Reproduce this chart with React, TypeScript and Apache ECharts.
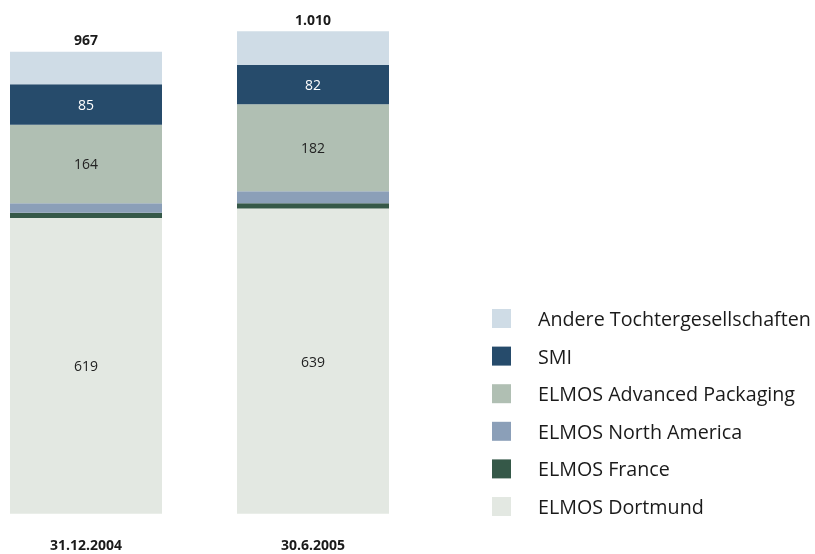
import React, { useEffect, useRef } from "react";
import * as echarts from "echarts";

const categories = ["31.12.2004", "30.6.2005"];
const dortmund = [619, 639];
const france = [11, 11];
const northAmerica = [20, 25];
const advancedPackaging = [164, 182];
const smi = [85, 82];
const andere = [68, 71];
const totals = [967, 1010];

const seriesNames = [
  "ELMOS Dortmund",
  "ELMOS France",
  "ELMOS North America",
  "ELMOS Advanced Packaging",
  "SMI",
  "Andere Tochtergesellschaften",
];
const legendOrder = [
  "Andere Tochtergesellschaften",
  "SMI",
  "ELMOS Advanced Packaging",
  "ELMOS North America",
  "ELMOS France",
  "ELMOS Dortmund",
];

const FONT = "'Open Sans', 'Noto Sans', sans-serif";

function fmtDE(v: number): string {
  return String(v).replace(/\B(?=(\d{3})+(?!\d))/g, ".");
}

export default function App() {
  const ref = useRef<HTMLDivElement>(null);
  useEffect(() => {
    if (!ref.current) return;
    const chart = echarts.init(ref.current, null, { renderer: "svg" });
    const inside = (color: string) => ({
      show: true,
      position: "inside" as const,
      color,
      fontSize: 14,
      fontFamily: FONT,
    });
    const mk = (name: string, data: number[], color: string, label: any) => ({
      name,
      type: "bar",
      stack: "total",
      barWidth: 152,
      clip: false,
      data,
      itemStyle: { color },
      label,
      emphasis: { disabled: true },
    });
    chart.setOption({
      animation: false,
      textStyle: { fontFamily: FONT },
      grid: { left: 86, width: 227, top: 7.3, bottom: 40.3, containLabel: false },
      xAxis: {
        type: "category",
        data: categories,
        boundaryGap: false,
        axisLine: { show: false },
        axisTick: { show: false },
        splitLine: { show: false },
        axisLabel: {
          margin: 24,
          fontSize: 14,
          fontWeight: "bold",
          color: "#1a1a1a",
          fontFamily: FONT,
        },
      },
      yAxis: {
        type: "value",
        min: 0,
        max: 1060,
        show: false,
        splitLine: { show: false },
      },
      legend: {
        orient: "vertical",
        left: 487,
        top: 303.5,
        data: legendOrder,
        icon: "rect",
        itemWidth: 19,
        itemHeight: 19,
        itemGap: 17.6,
        selectedMode: false,
        textStyle: {
          fontSize: 19.7,
          lineHeight: 19,
          color: "#1a1a1a",
          fontFamily: FONT,
          padding: [0, 0, 0, 22],
        },
      },
      series: [
        mk(seriesNames[0], dortmund, "#e3e8e2", inside("#222222")),
        mk(seriesNames[1], france, "#355848", { show: false }),
        mk(seriesNames[2], northAmerica, "#8b9fb8", { show: false }),
        mk(seriesNames[3], advancedPackaging, "#b0bfb3", inside("#222222")),
        mk(seriesNames[4], smi, "#264b6b", inside("#ffffff")),
        mk(seriesNames[5], andere, "#cfdce6", {
          show: true,
          position: "top",
          distance: 5,
          fontSize: 14,
          fontWeight: "bold",
          color: "#1a1a1a",
          fontFamily: FONT,
          formatter: (p: any) => fmtDE(totals[p.dataIndex]),
        }),
      ],
    });
    return () => chart.dispose();
  }, []);
  return (
    <div
      ref={ref}
      style={{ position: "fixed", left: 0, top: 0, width: 815, height: 554 }}
    />
  );
}
